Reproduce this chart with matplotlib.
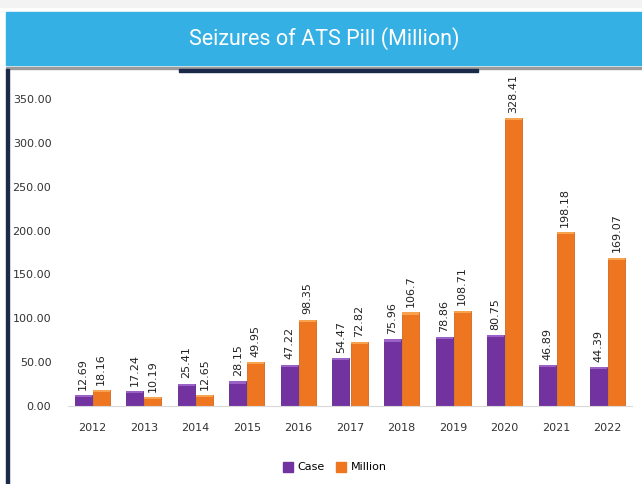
import matplotlib.pyplot as plt
from matplotlib.patches import Rectangle
import numpy as np

years = ['2012', '2013', '2014', '2015', '2016', '2017', '2018', '2019', '2020', '2021', '2022']
case = [12.69, 17.24, 25.41, 28.15, 47.22, 54.47, 75.96, 78.86, 80.75, 46.89, 44.39]
million = [18.16, 10.19, 12.65, 49.95, 98.35, 72.82, 106.7, 108.71, 328.41, 198.18, 169.07]
yticks = [0, 50, 100, 150, 200, 250, 300, 350]

purple = '#7233A0'
orange = '#EE7620'

fig = plt.figure(figsize=(6.42, 4.84), dpi=100)
W, H = 642, 484

def px_rect(x0, y0, x1, y1, color):
    # rectangle in pixel coords measured from the top-left corner
    fig.patches.append(Rectangle((x0 / W, 1 - y1 / H), (x1 - x0) / W, (y1 - y0) / H,
                                 transform=fig.transFigure, color=color, zorder=0))

# decoration: top strip, title bar, frame lines
px_rect(0, 0, W, 7, '#f3f3f3')
px_rect(6, 12, W, 65, '#35B0E5')
px_rect(6, 67, W, 69, '#9a9a9a')
px_rect(6, 69, 9, H, '#1b2a4a')
px_rect(179, 69, 478, 72, '#1b2a4a')
fig.text((6 + W) / 2 / W, 1 - 39 / H, 'Seizures of ATS Pill (Million)', color='white',
         ha='center', va='center', fontsize=15.5, family='Roboto')

ax = fig.add_axes([68 / W, 1 - 406 / H, (632 - 68) / W, (406 - 90.3) / H])
x = np.arange(len(years))
w = 0.33
b1 = ax.bar(x - w / 2 - 0.01, case, w, color=purple, edgecolor='#5e2686', linewidth=0.6)
b2 = ax.bar(x + w / 2 + 0.01, million, w, color=orange, edgecolor='#d5661a', linewidth=0.6)
# lighter caps on top of bars
ax.bar(x - w / 2 - 0.01, [2.5] * len(x), w, bottom=np.array(case) - 2.5, color='#9a62c4', linewidth=0)
ax.bar(x + w / 2 + 0.01, [2.5] * len(x), w, bottom=np.array(million) - 2.5, color='#f7a24f', linewidth=0)

for xi, v in zip(x - w / 2 - 0.01, case):
    ax.text(xi, v + 6, f'{v:g}', rotation=90, ha='center', va='bottom', fontsize=8, color='#222222')
for xi, v in zip(x + w / 2 + 0.01, million):
    ax.text(xi, v + 6, f'{v:g}', rotation=90, ha='center', va='bottom', fontsize=8, color='#222222')

ax.set_xlim(-0.47, 10.47)
ax.set_ylim(0, 360)
ax.set_xticks(x)
ax.set_xticklabels(years)
ax.set_yticks(yticks)
ax.set_yticklabels([f'{t:.2f}' for t in yticks])
ax.tick_params(length=0, labelsize=8, colors='#333333')
ax.tick_params(axis='x', pad=12)
ax.tick_params(axis='y', pad=12)
for s in ['top', 'right', 'left']:
    ax.spines[s].set_visible(False)
ax.spines['bottom'].set_color('#d9d9d9')

fig.legend([Rectangle((0, 0), 1, 1, color=purple), Rectangle((0, 0), 1, 1, color=orange)],
           ['Case', 'Million'], loc='center', bbox_to_anchor=(335 / W, 1 - 467 / H), ncol=2,
           frameon=False, fontsize=8, handlelength=0.9, handleheight=1.0, handletextpad=0.4,
           columnspacing=1.0)

plt.savefig('out.png', dpi=100)
